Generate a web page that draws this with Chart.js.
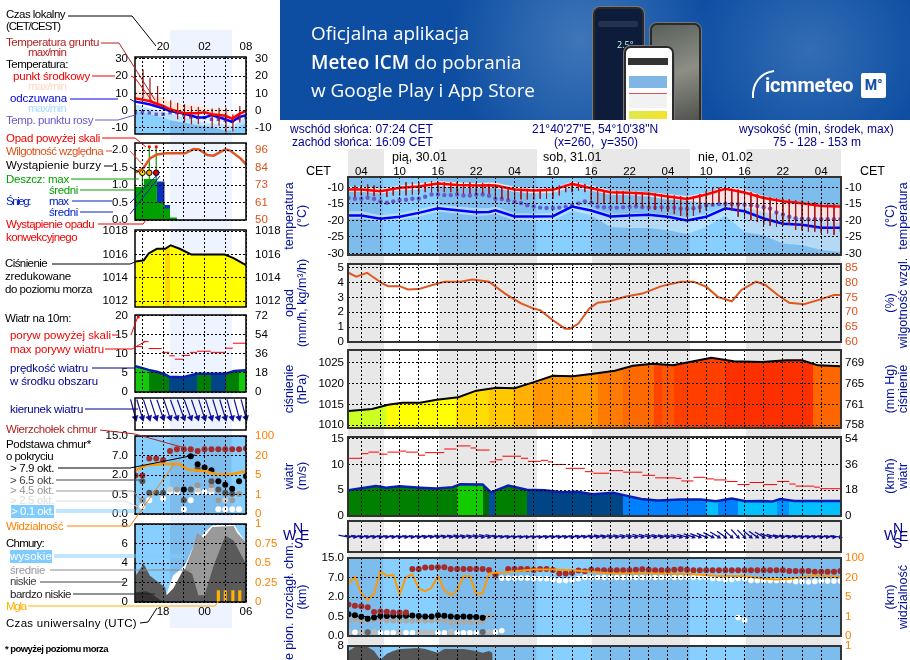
<!DOCTYPE html>
<html lang="pl"><head><meta charset="utf-8"><title>Meteogram</title>
<script src="https://cdn.jsdelivr.net/npm/chart.js@4"></script>
<style>
html,body{margin:0;padding:0;background:#fff;width:910px;height:660px;overflow:hidden;font-family:"Liberation Sans",Arial,sans-serif}
#page{position:relative;width:910px;height:660px;overflow:hidden}
canvas{position:absolute;z-index:2}
.t{position:absolute;white-space:pre;z-index:5;font-size:11.5px;line-height:13px}
.v{position:absolute;white-space:pre;z-index:5;font-size:12.5px;line-height:13px;color:#00109a;transform:translate(-50%,-50%) rotate(-90deg)}
.st{position:absolute;z-index:1}
svg{position:absolute;left:0;top:0;z-index:4}
#ban{position:absolute;left:280px;top:0;width:630px;height:120px;overflow:hidden;z-index:6;
background:radial-gradient(ellipse 130px 140px at 300px 40px,#3f76b8 0%,rgba(63,118,184,0) 100%),radial-gradient(ellipse 120px 110px at 530px 50px,#336db4 0%,rgba(51,109,180,0) 100%),#0e4ea2;color:#fff;font-family:"Open Sans",sans-serif}
#ban .l{position:absolute;left:31px;font-size:18.9px;line-height:24px;white-space:pre}
.ph{position:absolute;border-radius:7px 7px 0 0;border:2px solid #2a2a2a;box-shadow:0 0 0 1px #777;overflow:hidden}
</style></head><body><div id="page"></div>
<script>
/* ---------- time axes (hours since Friday 00:00 CET) ---------- */
const mainRange=[1.92,79.1];
const mainGrid=[4,7,10,13,16,19,22,25,28,31,34,37,40,43,46,49,52,55,58,61,64,67,70,73,76,79];
const mainTickLabels={4:'04',10:'10',16:'16',22:'22',28:'04',34:'10',40:'16',46:'22',52:'04',58:'10',64:'16',70:'22',76:'04'};
const mainNights=[[1.92,7.4],[16.15,31.4],[40.15,55.4],[64.15,79.1]];
const hours=[2,3,4,5,6,7,8,9,10,11,12,13,14,15,16,17,18,19,20,21,22,23,24,25,26,27,28,29,30,31,32,33,34,35,36,37,38,39,40,41,42,43,44,45,46,47,48,49,50,51,52,53,54,55,56,57,58,59,60,61,62,63,64,65,66,67,68,69,70,71,72,73,74,75,76,77,78,79];
const groundHours=[3,4,5,6,7,8,9,10,11,12,13,14,15,16,17,18,19,20,21,22,23,24,25,26,27,28,29,30,31,32,33,34,35,36,37,38,39,40,41,42,43,44,45,46,47,48,49,50,51,52,53,54,55,56,57,58,59,60,61,62,63,64,65,66,67,68,69,70,71,72,73,74,75,76,77,78,79];
/* ---------- main temperature panel ---------- */
const tempKnots=[2,4,7,10,13,16,19,22,24,25,28,31,34,37,40,43,46,49,52,55,58,61,64,67,70,73,76,79];
const tempMid=[-10.6,-10.6,-11.1,-10.1,-9.7,-8.8,-9.2,-9.4,-9.3,-9.4,-10.6,-10.9,-10.7,-8.9,-10.2,-11.4,-11.6,-11.9,-12.7,-13.5,-12.1,-10.4,-11.5,-13.2,-14.2,-14.8,-15.6,-15.8];
const tempMax=[-9.8,-9.7,-10.4,-9.4,-8.8,-8,-8.4,-8.6,-8.5,-8.5,-9.8,-10.2,-10.2,-8.2,-9.4,-10.8,-11,-11.4,-12,-12.6,-11.5,-9.8,-10.6,-12.6,-13.8,-14.4,-15.2,-15.4];
const tempMin=[-11.3,-11.3,-11.8,-10.8,-10.5,-9.6,-10,-10.2,-10,-10.2,-11.3,-11.8,-11.6,-9.8,-11,-12.2,-12.3,-12.7,-13.6,-14,-14.6,-15,-16,-17.5,-18.5,-19.5,-20.3,-20.8];
const feelMid=[-18.5,-18.5,-19.5,-18.9,-17.7,-16.3,-16.9,-17.5,-17.4,-16.9,-18.8,-18.8,-18.7,-15.8,-17,-18.8,-18.5,-18.3,-18.9,-20,-18.9,-16.3,-17.2,-19.4,-21,-21.3,-22.2,-22.2];
const feelMax=[-17.2,-17.2,-18.4,-17.8,-16.6,-15.2,-15.8,-16.3,-16.2,-15.8,-17.8,-17.9,-17.8,-14.8,-16.2,-18,-17.8,-17.7,-18.2,-19,-18,-15.5,-16,-17.5,-18.5,-19.5,-20.3,-20.8];
const feelMin=[-19.4,-19.4,-20.4,-19.8,-18.8,-17.3,-18,-18.6,-18.4,-18,-20,-20.2,-20,-17,-18.5,-22,-22.3,-22.3,-23,-24.2,-22,-18.5,-23.5,-24.6,-27,-27.5,-29,-29.6];
const dewPoint=[-13.2,-13.4,-13.4,-13.1,-13.4,-14.2,-14.6,-14.2,-13.8,-13.7,-13.4,-13.4,-12.8,-12.1,-12.1,-12.3,-12.3,-12.1,-12.4,-12.4,-12.2,-12.1,-12.5,-13.4,-13.5,-13.9,-14.3,-14.7,-15.4,-15.8,-16.1,-16.2,-16.2,-16.1,-15.8,-15.4,-14.8,-14.2,-14.6,-15.8,-16,-16.1,-16.1,-16,-15.9,-15.8,-16,-16.1,-16.1,-16,-16.1,-16.1,-16.4,-16.4,-16.3,-15.9,-15.4,-15.2,-15,-14.9,-15,-15.1,-15.2,-15.4,-15.6,-16,-16.4,-17.6,-18.2,-18.9,-19.3,-19.5,-19.6,-19.6,-19.6,-19.6,-19.6,-19.6];
const groundMax=[-9.4,-9.4,-9.1,-9.4,-10.4,-10.9,-9.9,-9.4,-8.4,-8.4,-8.4,-8.4,-8.1,-8.2,-8.4,-8.4,-8.4,-8.4,-8.4,-8.6,-8.6,-8.9,-9.4,-9.9,-9.9,-10.2,-10.4,-10.4,-10.4,-10.4,-10.2,-9.9,-9.4,-9.2,-8.4,-8.4,-8.9,-9.4,-10.9,-11,-11,-11,-11.1,-11.2,-11.3,-11.4,-11.5,-11.8,-12,-12.2,-12.4,-12.6,-12.8,-12.6,-12,-11,-10,-10,-10.2,-10.4,-10.6,-10.8,-11.4,-12,-12.6,-13,-13.2,-13.4,-13.6,-13.8,-14,-14.2,-14.4,-14.6,-14.8,-15,-15.2];
const groundMin=[-12.9,-12.4,-12.4,-12.6,-12.4,-12.9,-12.4,-12.4,-12.4,-12.2,-11.9,-11.4,-11.4,-11.4,-11.4,-11.4,-11.6,-11.9,-11.9,-11.9,-11.9,-11.9,-12.9,-13.4,-13.6,-13.6,-13.6,-13.6,-13.6,-13.4,-13.4,-13.4,-12.4,-11.4,-11.4,-10.9,-11.4,-13.9,-15,-15,-14.9,-15,-15,-15.2,-15.5,-16,-16.4,-16.8,-17.2,-17.4,-18,-18.6,-18.9,-18.6,-17.6,-16.9,-15.6,-14.4,-16.4,-17,-18.9,-19.2,-19.9,-20.5,-21.4,-21.6,-21.9,-21.6,-21.4,-22.9,-23,-23.4,-23.4,-23.9,-23.9,-24.4,-23.4];
/* ---------- main humidity ---------- */
const humHours=[2,3.2,4.9,7.3,8.2,10,11.3,13,15,17,19.5,21.4,24,26.5,29,30.9,32,34,35.9,36.7,38,39.7,41,42.9,45.3,48,51,54,56,58,59.8,62,63.5,65.8,67.3,69.2,71,73.3,75.5,78,79];
const humidity=[83.3,82,83.3,79.7,78.8,78.8,77.7,77.8,79.1,80.3,80.3,81,80.3,76.3,73,71.3,70.7,67.3,64.5,64.5,66.2,71.3,73.2,73.7,75.2,76.3,78.8,80.3,80.3,78.6,75.2,73.7,77.5,80.3,79.1,75.8,73.2,72.7,74.1,75.8,75.8];
/* ---------- main pressure ---------- */
const pressHours=[2,5.7,8.2,10.4,13.2,15.8,19.2,22,25.2,28,30.9,34,37.1,40.3,43.7,46.5,49.7,52.8,56,58.8,62.3,66.7,70.5,73,75.5,79];
const pressure=[1013.4,1013.9,1014.9,1015.4,1015.4,1016.1,1016.7,1018.3,1019,1018.9,1020.3,1021.9,1021.8,1022.4,1023.1,1024.3,1024.8,1024.4,1025.4,1026.2,1025.4,1025.2,1025.6,1025.6,1024.4,1024.2];
const pressColors=[[1.92,'#CCFF22'],[7.9,'#FFFF00'],[18.9,'#FFDD00'],[24,'#FFC800'],[27.7,'#FFB000'],[30.9,'#FF9500'],[41,'#FF7A00'],[45,'#FF6A00'],[49.8,'#FF4400'],[51,'#FF5500'],[53,'#FF3E00'],[61,'#FF3000'],[74.7,'#FF6600']];
/* ---------- main wind ---------- */
const windHours=[2,4,6.3,7.9,10,13.2,15.8,18.3,19.5,23,24.3,27,29.9,32.7,35.3,37.8,40.3,43.4,45.3,47.8,50.4,54,57.2,59.5,62,64.2,66.8,68.3,69.6,71.8,79];
const windSpeed=[5,5.4,5.8,5.5,5.75,5.5,5.35,5.6,6.15,6.1,4.6,5.9,5.1,5,4.6,4.7,4.2,4.5,4,3.3,3,3.2,3.2,2.85,3.4,2.85,2.9,2.8,3.3,2.9,2.9];
const windColors=[[1.92,'#007F00'],[19,'#12CC00'],[23,'#006A00'],[24,'#004E9E'],[25,'#007F00'],[29.9,'#004585'],[45,'#0080FF'],[57.9,'#00C0FF'],[59.9,'#0080FF'],[62.9,'#00C0FF'],[69.1,'#0090FF'],[71,'#00C0FF']];
const gustStart=[2,4.1,5.1,6.8,8.1,10.1,11,12.9,14,17,18.9,21.1,22,24.1,24.9,26.1,29,30.1,32.1,33.2,34,36,39,40.3,42.8,45,46.6,48,50,53.2,54.1,56,57.9,59.2,61.2,62.9,64.8,67,69.1,71,72,74.9,75.8,77.1];
const gustEnd=[4.1,5.1,6.8,8.1,10.1,11,12.9,14,17,18.9,21.1,22,24.1,24.9,26.1,29,30.1,32.1,33.2,34,36,39,40.3,42.8,45,46.6,48,50,53.2,54.1,56,57.9,59.2,61.2,62.9,64.8,67,69.1,71,72,74.9,75.8,77.1,79];
const gustSpeed=[11.2,12.1,12.4,12,12.4,12.6,12.4,11.8,12.3,13,13.6,13.2,12.8,10.5,10.9,11.6,11.2,10.6,10.8,10.5,10,9.25,8.6,8.3,8.8,8.5,8.5,7.9,7.4,7.3,6.8,7.5,7.2,7,6.7,6.1,6.5,6.1,6.7,6.2,5.8,5.6,5.3,5.3];
const windDir=[281,280,280,279,279,279,278,278,278,278,278,279,279,280,280,281,281,281,282,283,283,283,284,284,280,279,278,277,277,277,277,277,278,278,278,278,279,280,280,281,282,282,283,283,284,284,285,285,285,284,283,283,284,285,288,290,292,296,300,305,312,318,315,310,305,300,290,285,282,281,280,280,279,279,279,279,279,279];
/* ---------- main cloud base (position on the 0,0.5,2,7,15 km ladder) ---------- */
const cloudLadder=['0.0','0.5','2.0','7.0','15.0'];
const visLadder=['0','1','5','20','100'];
const cloudTop=[1.62,1.55,1.53,1.47,1.23,1.26,1.24,1.21,1.21,1.21,3.44,3.44,3.51,3.51,3.53,3.53,3.44,3.44,3.44,3.44,3.44,3.44,3.39,3.15,null,3.44,3.44,3.44,3.44,3.39,3.44,3.44,3.39,3.2,3.2,3.25,3.36,3.32,3.4,3.37,3.37,3.37,3.37,3.37,3.37,3.4,3.42,3.4,3.37,3.37,3.37,3.4,3.42,3.4,3.37,3.37,3.37,3.37,3.37,3.37,3.37,3.37,3.37,3.37,3.37,3.37,3.37,3.37,3.37,3.33,3.33,3.33,3.33,3.3,3.3,3.3,3.3,3.33];
const base79Hours=[2,3,4,5,6,7,8,9,10,11,12,13,14,15,16,17,18,19,20,21,22,23];
const base79=[1.12,1.07,0.99,0.89,0.95,1.02,1.02,1.04,1.02,1.04,1.05,1.02,1,1,1.07,1.04,1,0.97,1,0.99,0.97,0.94];
const base45Hours=[2,3,4,5,6,7,8,9,10,11,12,13,14,15,16,17,18,19,20,21,22,23,24];
const base45=[0.8,0.85,0.75,0.8,0.85,0.85,0.8,0.8,0.78,0.8,0.78,0.78,0.78,0.8,0.85,0.8,0.7,0.72,0.75,0.72,0.72,0.74,1.03];
const lowWhiteHours=[3,7,8,9,11,12,16,17,19,20,21,22,25,26];
const lowWhite=[0.19,0.17,0.17,0.17,0.17,0.17,0.17,0.17,0.17,0.17,0.17,0.17,0.2,0.27];
const lowGrayHours=[2,4,6,10,13,14,15,18,24];
const lowGray=[0.2,0.2,0.22,0.22,0.2,0.2,0.2,0.22,0.2];
const lowDarkHours=[5,23];
const lowDark=[0.19,0.2];
const highWhiteHours=[26,27,28,29,30,31,32,33,34,35,36,37,38,39,40,41,42,43,44,45,46,47,48,49,50,51,52,53,54,55,56,57,58,59,60,61,62,63,64,65,66,67,68,69,70,71,72,73,74,75,76,77,78,79,63,64];
const highWhite=[2.97,2.97,2.97,2.97,2.97,2.95,2.95,2.95,2.9,2.85,2.85,2.88,2.95,3,3,3,3,3,3,3,3,3,3,3,3,3,3,3,3,3,3,3,3,2.95,2.95,2.9,2.9,2.95,2.95,2.85,2.85,2.85,2.85,2.85,2.85,2.85,2.8,2.8,2.78,2.8,2.82,2.82,2.82,2.82,0.95,0.82];
const visHours=[2,3,4,5,6,7,8,9,10,11,12,13,14,15,16,17,18,19,20,21,22,23,24,25,26,28,31,34,37,40,43,50,56,60,64,67,69,71,73,75,79];
const visibility=[2.69,3.03,2.18,1.84,2.18,3.34,3.08,3.15,2.13,3.03,3.15,2.44,2.3,2.47,3.08,2.35,2.1,2.32,3.08,3.07,2.15,2.2,3.2,3.24,3.25,3.32,3.41,3.41,3.37,3.29,3.2,3.2,3.17,3.08,3.08,2.95,2.9,2.92,3.03,3.1,3.03];
const lowCloudHours=[2,3,5,6,7,8,9,10,13,14,16,17,20,22,23,24,24.5,25];
const lowCloud=[7.5,7.9,7.9,7.5,6.6,7.2,7.5,7.7,7.8,7.7,7.3,7.7,7.7,7.5,7.3,7.5,7.3,0];
/* ---------- side panels ---------- */
const sideRange=[15.93,32];
const sideGrid=[17,20,23,26,29,32];
const sideTopLabels={20:'20',26:'02',32:'08'};
const sideBottomLabels={20:'18',26:'00',32:'06'};
const sideNight=[[21,29.9]];
const sideKnots=[16,18,20,21,23,25,26,27,29,30,31,32];
const sideRed=[7.1,5.6,2.7,0.8,-1.5,-1.5,-1,-2.1,-3,-4.6,-2,-0.2];
const sideBlue=[5.2,3.65,1.35,-0.2,-1.7,-4,-4,-2.5,-5,-6.5,-3.7,-2.7];
const sidePinkTop=[12.3,9.8,7.5,5.2,3.6,3,2.1,1.4,0.6,-3,-1,0.8];
const sideSkyTop=[0,-2,-4,-5.5,-7,-8.5,-9,-9.5,-11.5,-11.5,-9,-7];
const sideMidTop=[3.5,1.5,-0.5,-2,-4,-6,-7,-7.5,-8,-9,-6,-4];
const sideSkyColors=[[15.93,'#8AD0FF'],[21,'#7CBDEE'],[29.9,'#8AD0FF']];
const sideHours=[16,17,18,19,20,21,22,23,24,25,26,27,28,29,30,31,32];
const sideDew=[-1.3,-1,-1.3,-2.1,-2.1,-1.2,-1.3,-2.5,-3.7,-4,-4,-5,-5,-5.6,-6,-4.6,-4];
const sideGroundHours=[17.1,18.1,19.2,21.1,22.1,23.1,24.1,25.1,27.1,28.1,29.1,30.1,31.1];
const sideGroundMax=[23.8,19,14.2,6,4.6,3.7,2.7,2.1,1.3,1.7,1.7,-2.1,2.7];
const sideGroundMin=[7.5,5.6,3.7,-0.2,-5,-6.9,-7.9,-7.9,-10.2,-8.8,-12.7,-12.1,-6.9];
const sideHumHours=[16,17.1,18.1,19.1,20.5,23.2,24.4,25.2,26.4,27.3,29,29.7,31.2,32];
const sideHum=[81.3,83.9,90.5,93.1,93.8,93.8,96.6,96.4,92.7,92.3,96.4,95.6,90.5,86.6];
const rainSteps=[15.93,17.2,19.1,20.2,21,22,32];
const rainMean=[0.94,1.17,0.5,0.33,0.07,0,0];
const snowMax=[0,0,1.1,0.43,0,0,0];
const rainMaxHours=[17,18,19];
const rainMaxTop=[1.35,2.09,2.09];
const rainMaxBase=[0.9,0.9,0.9];
const stormHours=[17,18,19];
const stormLevel=[1.35,1.35,1.35];
const stormColors=['#FFE000','#F0A000','#E00000'];
const overScaleHours=[18,19];
const overScale=[2.09,2.09];
const convHours=[16.5,17.2,18,18.7,19.5,20.2,21];
const convective=[0.01,0.01,0.01,0.01,0.01,0.01,0.01];
const sidePressHours=[16,17.2,17.9,19.1,20.3,21.1,22.4,24.1,28.9,30.2,32];
const sidePress=[1015.4,1015.5,1016.1,1016.5,1016.5,1016.8,1016.5,1016,1016,1015.7,1015.1];
const sidePressColors=[[15.93,'#FFFF00'],[20.3,'#FFD800'],[21,'#FFFF00']];
const sideWindHours=[16,17.9,19.1,20.3,20.9,22.9,24.9,29.1,30.3,32];
const sideWind=[6.8,5.8,5.3,4.6,4,3.9,4.8,4.8,5.5,5.7];
const sideWindColors=[[15.93,'#16C80C'],[17.9,'#007F00'],[20.9,'#004585'],[24.9,'#007F00'],[26.9,'#004585'],[29.1,'#007F00'],[31,'#16C80C']];
const sideGustStart=[16,17.1,17.9,19.8,20.9,21.7,22.7,23.9,24.9,26.9,29.1,30.1];
const sideGustEnd=[17.1,17.9,19.8,20.9,21.7,22.9,23.9,24.9,26.9,29.1,30.1,32];
const sideGust=[11.9,13.2,11.4,10.4,9.5,8.6,9.6,10.4,10.7,10.4,11.5,12.8];
const sideGustOverHours=[16.4];
const sideGustOver=[19.7];
const sideDir=[345,343,342,342,341,341,340,340,340,341,342,342,343,343,344,345,345];
const sideTop=[1.98,1.98,2.85,2.85,2.77,3.23,3.32,3.32,3.32,3.23,3.32,3.32,3.32,3.32,3.32,3.32,3.36];
const sideBlackHours=[23,24,25,26,27,28,29,30,31,32];
const sideBlack=[1.26,2.96,2.55,2.38,2.24,1.68,1.5,1.3,1.68,1.93];
const sideDarkHours=[17,18,19,20,23,24,25,27,28,29,30];
const sideDark=[1.68,1.09,1.09,1.09,0.7,1.26,2.32,1.68,1.26,1.09,1.04];
const sideMidHours=[16,17,22,25,27,28,29,30,31];
const sideMid=[0.36,0.7,1.26,1.47,1.47,0.7,1.04,0.7,1.02];
const sideLightHours=[21,25,27,28,29,30];
const sideLight=[1.26,1.26,1.26,0.7,0.7,0.7];
const sideWhiteHours=[16,17,18,20,21,22,23,24,25,26,27,28,29,30,31];
const sideWhite=[0.36,0.4,0.7,0.79,1.13,1.13,0.24,0.7,1.13,1.13,1.13,0.24,0.24,0.24,0.24];
const sideVisHours=[16,17.6,20.1,22.3,23.7,26.1,28,30,32];
const sideVis=[2.22,2.5,2.56,2.56,2.27,2.19,2.02,2.05,2.19];
const fHighHours=[20.2,21.5,23.2,24.4,25.9,27.1,30.2,32];
const fHigh=[0.07,2.7,3.7,5.6,7,7.8,7.9,6];
const fMidHours=[20.2,21.7,23.2,24.4,24.9,25.9,27.1,30.2,30.7,32];
const fMid=[0.2,0.7,3.5,5.7,7.1,6.6,7.7,7.8,7.1,6.1];
const fLowHours=[16,17.2,18.1,20.3,20.5,21.5,23,24.2,25.1,26,27.3,29,30.2,32];
const fLow=[2.7,3.9,2.7,1.5,0.7,1.4,3.4,2.9,0.7,0.7,3.7,6.8,6.3,3.9];
const fVeryLowHours=[16,17.6,18.6,20];
const fVeryLow=[1,1.1,0.7,0];
const fogHours=[28,29,30.1,31.1];
const fog=[0.15,0.15,0.15,0.15];
const fogBase=[0,0,0,0];

const page=document.getElementById('page');
const FONT={family:'"Liberation Sans",Arial,sans-serif',size:11.5};
const SKY='#86CFFF',SKYN='#7DBDEE';
const pts=(xs,ys)=>xs.map((x,i)=>({x,y:ys[i]}));
const segs=(xs,a,xs2,b)=>{const o=[];xs.forEach((x,i)=>{o.push({x,y:a[i]},{x:xs2?xs2[i]:x,y:b[i]},{x:xs2?xs2[i]:x,y:null});});return o;};
const line=(xs,ys,color,w,extra)=>Object.assign({type:'line',data:pts(xs,ys),borderColor:color,borderWidth:w,pointRadius:0,tension:0,fill:false,spanGaps:false},extra||{});
const dots=(xs,ys,color,r,extra)=>Object.assign({type:'line',data:pts(xs,ys),showLine:false,borderWidth:0,pointRadius:r,pointBackgroundColor:color,pointBorderWidth:0,pointHoverRadius:r},extra||{});
const sg=(data,color,w,extra)=>Object.assign({type:'line',data,borderColor:color,borderWidth:w,pointRadius:0,tension:0,fill:false,spanGaps:false},extra||{});
const area=(xs,ys,color,fill,extra)=>Object.assign({type:'line',data:pts(xs,ys),borderWidth:0,pointRadius:0,tension:0,backgroundColor:color,fill:fill},extra||{});
/* plugin: plot background, day/night bands, frame, horizontal colour stops */
const panelPlugin={id:'panel',
 afterLayout(c){const x=c.scales.x,a=c.chartArea;c.data.datasets.forEach(d=>{if(!d.stops)return;
   const g=c.ctx.createLinearGradient(a.left,0,a.right,0),f=t=>Math.min(1,Math.max(0,(x.getPixelForValue(t)-a.left)/(a.right-a.left)));
   d.stops.forEach((s,i)=>{const nx=d.stops[i+1]?d.stops[i+1][0]:x.max;g.addColorStop(f(s[0]),s[1]);g.addColorStop(f(nx),s[1]);});d.backgroundColor=g;});},
 beforeDatasetsDraw(c,_,o){const a=c.chartArea,x=c.scales.x,k=c.ctx;k.save();
   if(o.bg){k.fillStyle=o.bg;k.fillRect(a.left,a.top,a.right-a.left,a.bottom-a.top);}
   if(o.bands){k.fillStyle=o.bandColor;o.bands.forEach(b=>{const l=x.getPixelForValue(b[0]),r=x.getPixelForValue(b[1]);k.fillRect(l,a.top,r-l,a.bottom-a.top);});}
   k.restore();},
 afterDraw(c,_,o){const a=c.chartArea,k=c.ctx;k.save();k.strokeStyle=o.frame||'#000';k.lineWidth=o.frameW||1.5;k.strokeRect(a.left,a.top,a.right-a.left,a.bottom-a.top);k.restore();}};
function panel(p){
 const [x0,y0,x1,y1]=p.box,M=46,V=20;
 const cv=document.createElement('canvas');cv.width=x1-x0+2*M;cv.height=y1-y0+2*V;
 cv.style.left=(x0-M)+'px';cv.style.top=(y0-V)+'px';cv.style.width=cv.width+'px';cv.style.height=cv.height+'px';page.appendChild(cv);
 const n=p.datasets.length;p.datasets.forEach((d,i)=>{d.order=n-i;if(!d.yAxisID)d.yAxisID='y';d.xAxisID='x';});
 const xLabelled=!!p.xLabels;
 const scales={
  x:{type:'linear',offset:false,position:p.xPos||'top',min:p.xr[0],max:p.xr[1],afterFit:s=>{s.height=xLabelled?V:0;},
     afterBuildTicks:s=>{s.ticks=p.xGrid.map(v=>({value:v}));},
     ticks:{display:xLabelled,autoSkip:false,maxRotation:0,padding:p.xPad===undefined?4:p.xPad,color:'#000',font:FONT,callback:v=>(p.xLabels&&p.xLabels[v])||''},
     grid:{display:true,offset:false,color:'#000',lineWidth:1,z:1,drawTicks:false},border:{display:false,dash:[2,2]}},
  y:{type:'linear',position:'left',min:p.yr[0],max:p.yr[1],afterFit:s=>{s.width=M;},
     afterBuildTicks:s=>{s.ticks=p.yTicks.map(v=>({value:v}));},
     ticks:{autoSkip:false,padding:p.lPad,color:'#000',font:FONT,callback:(v,i)=>p.yLabels?p.yLabels[i]:String(v)},
     grid:{color:'#000',lineWidth:1,z:1,drawTicks:false},border:{display:false,dash:[2,2]}},
  y2:{type:'linear',axis:'y',position:'right',min:p.rr[0],max:p.rr[1],afterFit:s=>{s.width=M;},
     afterBuildTicks:s=>{s.ticks=p.rTicks.map(v=>({value:v}));},
     ticks:{autoSkip:false,padding:p.rPad,color:p.rColor||'#000',font:FONT,callback:(v,i)=>p.rLabels?p.rLabels[i]:String(v)},
     grid:{display:false,drawTicks:false},border:{display:false}}
 };
 new Chart(cv.getContext('2d'),{type:'line',data:{datasets:p.datasets},plugins:[panelPlugin],options:{responsive:false,animation:false,devicePixelRatio:1,events:[],
   layout:{padding:{left:0,right:0,top:(xLabelled&&(p.xPos||'top')==='top')?0:V,bottom:(xLabelled&&p.xPos==='bottom')?0:V}},
   elements:{point:{hoverRadius:0}},scales,
   plugins:{legend:{display:false},tooltip:{enabled:false},panel:{bg:p.bg,bands:p.bands,bandColor:p.bandColor,frame:p.frame,frameW:p.frameW}}}});
}
/* wind-vector helpers: shaft pointing from the tail to the head, through the scale units */
function windSeries(xs,az,head,lenX,lenY,color,shaftW,hr){
 const tx=xs.map((x,i)=>x+Math.sin(az[i]*Math.PI/180)*lenX),ty=az.map(a=>head+Math.cos(a*Math.PI/180)*lenY),hy=az.map(()=>head);
 return [sg(segs(tx,ty,xs,hy),color,shaftW,{clip:false}),dots(xs,hy,color,hr,{pointStyle:'triangle',rotation:az.map(a=>a+180),clip:false})];
}
/* ---------- page stripes ---------- */
const stripe=(l,t,w,h,c)=>{const d=document.createElement('div');d.className='st';d.style.cssText=`left:${l}px;top:${t}px;width:${w}px;height:${h}px;background:${c}`;page.appendChild(d);};
[[348,36],[439,98],[592,98],[746,95]].forEach(s=>stripe(s[0],149,s[1],511,'#E8E8E8'));
stripe(170,30,62,598,'#EEF4FF');
/* ---------- main panels ---------- */
const mx={xr:mainRange,xGrid:mainGrid,lPad:4,rPad:4,frame:'#333',frameW:2};
const nightBlue={bg:SKY,bands:mainNights,bandColor:SKYN};
panel({...mx,...nightBlue,box:[348,177,841,255],xLabels:mainTickLabels,xPad:-2,yr:[-30.5,-6.8],yTicks:[-30,-25,-20,-15,-10],rr:[-30.5,-6.8],rTicks:[-30,-25,-20,-15,-10],
 datasets:[
  area(tempKnots,feelMax,'rgba(255,255,255,0.42)','+1'),area(tempKnots,feelMin,'rgba(0,0,0,0)',false),
  area(tempKnots,tempMax,'rgba(255,226,226,0.95)','+1'),area(tempKnots,tempMin,'rgba(0,0,0,0)',false),
  dots(hours,dewPoint,'#6A5ACD',2.2),
  line(tempKnots,feelMid,'#0000FF',2.5),
  sg(segs(groundHours,groundMax,null,groundMin),'#A01818',1),
  line(tempKnots,tempMid,'#FF0000',2.5)]});
panel({...mx,box:[348,264,841,342],yr:[0,5.25],yTicks:[0,1,2,3,4,5],rr:[60,86.25],rTicks:[60,65,70,75,80,85],rColor:'#E0501A',
 datasets:[line(humHours,humidity,'#E0561F',2,{yAxisID:'y2'})]});
panel({...mx,box:[348,350,841,428],yr:[1009.3,1028.1],yTicks:[1010,1015,1020,1025],rr:[1009.3,1028.1],rTicks:[1010,1015,1020,1025],rLabels:['758','761','765','769'],
 datasets:[line(pressHours,pressure,'#000',2,{fill:'start',stops:pressColors})]});
panel({...mx,box:[348,437,841,516],yr:[0,15.33],yTicks:[0,5,10,15],rr:[0,55.2],rTicks:[0,18,36,54],
 datasets:[line(windHours,windSpeed,'#0A1EB4',2.5,{fill:'start',stops:windColors}),sg(segs(gustStart,gustSpeed,gustEnd,gustSpeed),'#FF0000',1)]});
panel({...mx,box:[348,521,841,552],xGrid:mainGrid,yr:[0,1],yTicks:[],rr:[0,1],rTicks:[],
 datasets:windSeries(hours,windDir,0.48,1.6,0.33,'#10109A',1.3,2.6)});
panel({...mx,...nightBlue,box:[348,558,841,636],yr:[0,4],yTicks:[0,1,2,3,4],yLabels:cloudLadder,rr:[0,4],rTicks:[0,1,2,3,4],rLabels:visLadder,rColor:'#FF7F00',
 datasets:[
  dots(base45Hours,base45,'#AAAAAA',3),dots(lowGrayHours,lowGray,'#BBBBBB',3),dots(lowDarkHours,lowDark,'#666666',3),
  dots(base79Hours,base79,'#000000',3),dots(hours,cloudTop,'#A52A2A',3),
  dots(lowWhiteHours,lowWhite,'#FFFFFF',2.8),dots(highWhiteHours,highWhite,'#FFFFFF',2.8),
  line(visHours,visibility,'#FF9900',2)]});
panel({...mx,...nightBlue,box:[348,646,841,724],yr:[0,8],yTicks:[0,2,4,6,8],rr:[0,1],rTicks:[0,0.25,0.5,0.75,1],rColor:'#FF7F00',rLabels:['0','0.25','0.5','0.75','1'],
 datasets:[line(lowCloudHours,lowCloud,'#555',0,{fill:'start',backgroundColor:'#555555'})]});
/* ---------- side panels ---------- */
const sx={xr:sideRange,xGrid:sideGrid,lPad:7,rPad:9,frame:'#000',frameW:1.5};
const sideBlue2={bg:SKY,bands:sideNight,bandColor:SKYN};
panel({...sx,box:[135,57,246,134],xLabels:sideTopLabels,xPad:3,yr:[-13.5,31],yTicks:[-10,0,10,20,30],rr:[-13.5,31],rTicks:[-10,0,10,20,30],
 datasets:[
  area(sideKnots,sideMidTop,'#BDE2FF','start'),
  area(sideKnots,sideSkyTop,'#000','start',{stops:sideSkyColors}),
  area(sideKnots,sidePinkTop,'rgba(255,228,214,0.95)','+1'),area(sideKnots,sideRed,'rgba(0,0,0,0)',false),
  dots(sideHours,sideDew,'#6A5ACD',2.4,{pointStyle:'rect'}),
  line(sideKnots,sideBlue,'#0000FF',2.5),
  sg(segs(sideGroundHours,sideGroundMax,null,sideGroundMin),'#A01818',1.2),
  line(sideKnots,sideRed,'#FF0000',2.5)]});
panel({...sx,box:[135,143,246,220],yr:[0,2.2],yTicks:[0,0.5,1,1.5,2],yLabels:['0.0','0.5','1.0','1.5','2.0'],rr:[50,100.6],rTicks:[50,61.5,73,84.5,96],rLabels:['50','61','73','84','96'],rColor:'#E0501A',
 datasets:[
  area(rainSteps,snowMax,'#0B2FC0','start',{stepped:'before'}),
  area(rainSteps,rainMean,'#00A000','start',{stepped:'before'}),
  sg(segs(rainMaxHours,rainMaxTop,null,rainMaxBase),'#00A000',1.2,{clip:false}),
  dots(convHours,convective,'#FF0000',1,{pointStyle:'rect'}),
  dots(overScaleHours,overScale,'#FF0000',2,{pointStyle:'rect'}),
  dots(stormHours,stormLevel,stormColors,2.8,{pointBorderColor:'#000',pointBorderWidth:1}),
  line(sideHumHours,sideHum,'#E0561F',2.5,{yAxisID:'y2'})]});
panel({...sx,box:[135,230,246,307],yr:[1011.5,1018.11],yTicks:[1012,1014,1016,1018],rr:[1011.5,1018.11],rTicks:[1012,1014,1016,1018],
 datasets:[line(sidePressHours,sidePress,'#000',2,{fill:'start',stops:sidePressColors})]});
panel({...sx,box:[135,315,246,392],yr:[0,20.2],yTicks:[0,5,10,15,20],rr:[0,72.7],rTicks:[0,18,36,54,72],
 datasets:[line(sideWindHours,sideWind,'#0A1EB4',2.5,{fill:'start',stops:sideWindColors}),
  sg(segs(sideGustStart,sideGust,sideGustEnd,sideGust),'#FF0000',1),
  dots(sideGustOverHours,sideGustOver,'#FF0000',1.5)]});
panel({...sx,box:[135,398,246,430],yr:[0,1],yTicks:[],rr:[0,1],rTicks:[],
 datasets:windSeries(sideHours,sideDir,0.38,2.75,0.6,'#10109A',1.2,4)});
panel({...sx,...sideBlue2,box:[135,436,246,514],yr:[0,4],yTicks:[0,1,2,3,4],yLabels:cloudLadder,rr:[0,4],rTicks:[0,1,2,3,4],rLabels:visLadder,rColor:'#FF7F00',
 datasets:[
  dots(sideWhiteHours,sideWhite,'#FFFFFF',3),dots(sideLightHours,sideLight,'#CCCCCC',3),dots(sideMidHours,sideMid,'#999999',3),
  dots(sideDarkHours,sideDark,'#555555',3),dots(sideBlackHours,sideBlack,'#000000',3),dots(sideHours,sideTop,'#A52A2A',3),
  line(sideVisHours,sideVis,'#FF9900',2.5)]});
panel({...sx,...sideBlue2,box:[135,524,246,602],xLabels:sideBottomLabels,xPos:'bottom',xPad:3,yr:[0,8],yTicks:[0,2,4,6,8],rr:[0,1],rTicks:[0,0.25,0.5,0.75,1],rLabels:['0','0.25','0.5','0.75','1'],rColor:'#FF7F00',
 datasets:[
  line(fHighHours,fHigh,'#FFFFFF',1,{fill:'start',backgroundColor:'#FFFFFF'}),
  area(fMidHours,fMid,'#999999','start'),
  area(fLowHours,fLow,'#5A5A5A','start'),
  area(fVeryLowHours,fVeryLow,'#333333','start'),
  sg(segs(fogHours,fog,null,fogBase),'#FFB000',3.2,{yAxisID:'y2'})]});
/* ---------- text: [text, left, centre y, right edge, colour] ---------- */
const T=(s,x,y,c,extra,right)=>{const d=document.createElement('div');d.className='t';d.textContent=s;d.style.cssText=`left:${x}px;top:${y-6.5}px;color:${c||'#000'};${extra||''}`;page.appendChild(d);
 if(right){const w=d.getBoundingClientRect().width;d.style.letterSpacing=((right-x-w)/s.length).toFixed(3)+'px';}return d;};
const V=(s,x,y,c)=>{const d=document.createElement('div');d.className='v';d.textContent=s;d.style.left=x+'px';d.style.top=y+'px';if(c)d.style.color=c;page.appendChild(d);};
const RED='#F00000',BR='#B22222',GR='#00A000',BL='#0020C8',NV='#000090',ORG='#FF8000';
[['Czas lokalny',6,14,65],['(CET/CEST)',6,26,60],['Temperatura gruntu',6,42,99,BR],['max/min',28,52,66,BR],['Temperatura:',6,64,68],['punkt środkowy',13,76,90,RED],['max/min',28,86,66,'#FFD8C8'],['odczuwana',10,98,67,'#0000E0'],['max/min',28,108,66,'#A8DCFF'],['Temp. punktu rosy',6,120,93,'#6A5ACD'],
 ['Opad powyżej skali',6,138,100,RED],['Wilgotność względna',6,151,103,'#E0501A'],['Wystąpienie burzy',6,165,101],['Deszcz: max',6,179,69,GR],['średni',49,190,78,GR],['Śnieg:',6,201,30,BL],['max',49,201,68,BL],['średni',49,212,78,BL],['Wystąpienie opadu',6,224,94,RED],['konwekcyjnego',6,237,77,RED],
 ['Ciśnienie',5,263,47],['zredukowane',5,276,71],['do poziomu morza',5,289,92],['Wiatr na 10m:',5,318,71],['poryw powyżej skali',10,335,111,RED],['max porywy wiatru',10,349,104,RED],['prędkość wiatru',10,368,88,NV],['w środku obszaru',10,381,98,NV],['kierunek wiatru',10,409,83,NV],['Wierzchołek chmur',6,429,97,BR],
 ['Podstawa chmur*',6,444,91],['o pokryciu',6,456,53],['> 7.9 okt.',10,468,54],['> 6.5 okt.',10,480,54,'#444'],['> 4.5 okt.',10,490,54,'#999'],['> 2.5 okt.',10,500,54,'#DDD'],['Widzialność',6,526,63,ORG],['Chmury:',6,543,44],['średnie',10,570,45,'#999'],['niskie',10,581,36,'#444'],['bardzo niskie',10,594,71,'#222'],['Mgła',6,606,26,'#FFB000'],['Czas uniwersalny (UTC)',6,623,137]
].forEach(a=>T(a[0],a[1],a[2],a[4],'',a[3]));
T('> 0.1 okt.',11,511,'#fff','background:#80CCFF',54);
T('wysokie',10,556,'#fff','background:#80CCFF',52);
T('* powyżej poziomu morza',5,648,'#000','font-size:9.5px;font-weight:bold',108);
[['pią, 30.01',392,157],['sob, 31.01',543,157],['nie, 01.02',698,157],['CET',306,171],['CET',860,171]].forEach(a=>T(a[0],a[1],a[2],'#000','font-size:12.5px'));
[['wschód słońca: 07:24 CET',290,129],['zachód słońca: 16:09 CET',292,142],['21°40\'27"E, 54°10\'38"N',532,129],['(x=260,  y=350)',554,142],['wysokość (min, środek, max)',739,129],['75 - 128 - 153 m',773,142]].forEach(a=>T(a[0],a[1],a[2],NV,'font-size:12px'));
[['temperatura',289,216],['(°C)',302,216],['opad',289,303],['(mm/h, kg/m³/h)',302,303],['ciśnienie',289,389],['(hPa)',302,389],['wiatr',289,476],['(m/s)',302,476],['(km)',302,597],['e pion. rozciągł. chm.',289,601],
 ['(°C)',890,216],['temperatura',903,216],['(%)',890,303],['wilgotność wzgl.',903,303],['(mm Hg)',890,389],['ciśnienie',903,389],['(km/h)',890,476],['wiatr',903,476],['(km)',890,597],['widzialność',903,597]].forEach(a=>V(a[0],a[1],a[2]));
[[293,528,'N'],[283,535,'W'],[300,535,'E'],[294,543,'S'],[893,528,'N'],[884,535,'W'],[899,536,'E'],[893,543,'S']].forEach(a=>T(a[2],a[0],a[1],NV,'font-size:14px'));
/* ---------- connector lines ---------- */
const conn=[['#000','68,16 132,16 156,46'],[BR,'101,43 119,43 155,100'],[RED,'92,76 115,76'],[RED,'131,76 135,78 155,105'],['#0000E0','70,99 118,99'],['#0000E0','130,99 135,102'],['#6A5ACD','95,120 118,120 135,115'],
 [RED,'102,138 135,138 146,147'],['#E0501A','106,151 112,151'],['#E0501A','130,151 143,165'],['#000','104,166 113,166'],['#000','130,167 139,172'],[GR,'71,179 139,179'],[GR,'80,190 135,190'],[BL,'72,201 112,201'],[BL,'130,203 160,172'],[BL,'80,212 113,212'],[BL,'130,214 160,176'],[RED,'98,224 143,224 146,220'],
 ['#000','52,264 130,264 135,262'],[RED,'112,335 118,335'],[RED,'131,335 138,316'],[RED,'105,349 132,349 146,341'],[NV,'92,368 135,368'],[NV,'85,409 138,409'],[BR,'100,430 135,434 185,448'],
 ['#000','58,468 130,468 195,455'],['#444','56,480 140,480'],['#999','56,491 133,491 145,505'],['#DDD','56,501 125,501 138,507'],['#80CCFF','56,510 135,510'],['#80CCFF','56,512 135,512'],[ORG,'67,526 130,526 175,463'],
 ['#80CCFF','54,555 185,555'],['#80CCFF','54,557 185,557'],['#888','50,570 192,570'],['#444','40,582 125,582'],['#222','73,594 155,594'],['#FFB000','28,606 215,606 219,600'],['#000','140,623 148,622 157,608']];
const NS='http://www.w3.org/2000/svg',svg=document.createElementNS(NS,'svg');svg.setAttribute('width',910);svg.setAttribute('height',660);
conn.forEach(c=>{const p=document.createElementNS(NS,'polyline');p.setAttribute('points',c[1]);p.setAttribute('fill','none');p.setAttribute('stroke',c[0]);p.setAttribute('stroke-width',1);svg.appendChild(p);});
page.appendChild(svg);
/* ---------- banner ---------- */
const ban=document.createElement('div');ban.id='ban';
ban.innerHTML=`<div class="l" style="top:21px">Oficjalna aplikacja</div>
<div class="l" style="top:50px"><b style="font-weight:600">Meteo ICM</b> do pobrania</div>
<div class="l" style="top:78px">w Google Play i App Store</div>
<div class="ph" style="left:313px;top:7px;width:47px;height:120px;background:#0c1c3a"><div style="color:#cfe;font-size:9px;margin:29px 0 0 22px">2.5°</div><div style="position:absolute;left:3px;top:12px;width:40px;height:6px;background:#22324f;border-radius:2px"></div></div>
<div class="ph" style="left:370px;top:23px;width:47px;height:110px;background:linear-gradient(160deg,#59605a,#8d8f86 45%,#3f423e)"></div>
<div class="ph" style="left:344px;top:46px;width:46px;height:90px;background:#fff"><div style="position:absolute;left:2px;top:10px;width:40px;height:7px;background:#333"></div><div style="position:absolute;left:3px;top:28px;width:38px;height:12px;background:#7fb6e6"></div><div style="position:absolute;left:3px;top:45px;width:38px;height:14px;background:#f2f2f2;border-top:1px solid #d55"></div><div style="position:absolute;left:3px;top:63px;width:38px;height:8px;background:linear-gradient(90deg,#dfe94c,#f3e22a)"></div></div>
<svg width="30" height="40" style="left:470px;top:68px;position:absolute;z-index:1"><path d="M3 30 C2 16 10 5 24 3" stroke="#fff" stroke-width="2" fill="none"/></svg>
<div style="position:absolute;left:485px;top:73px;font:bold 20px Roboto,sans-serif;letter-spacing:-.2px;white-space:pre">icmmeteo</div>
<div style="position:absolute;left:581px;top:73px;width:25px;height:25px;background:#fff;border-radius:2px;color:#0e4ea2;font:bold 14px/25px Roboto,sans-serif;text-align:center">M°</div>`;
page.appendChild(ban);
</script></body></html>
